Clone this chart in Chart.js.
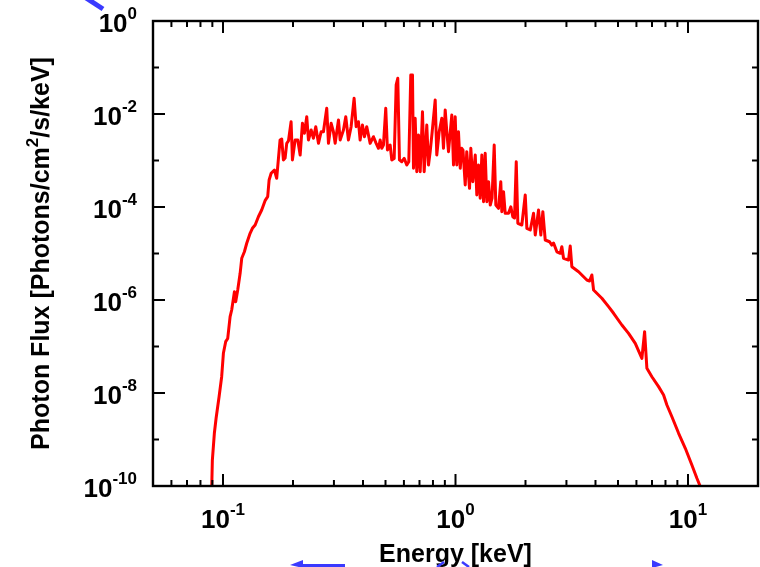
<!DOCTYPE html>
<html>
<head>
<meta charset="utf-8">
<script src="https://cdn.jsdelivr.net/npm/chart.js@4/dist/chart.umd.min.js"></script>
<style>
  html, body { margin: 0; padding: 0; background: #ffffff; }
  #wrap { width: 760px; height: 567px; position: relative; overflow: hidden; }
  canvas { display: block; }
</style>
</head>
<body>
<div id="wrap"><canvas id="c" width="760" height="567"></canvas></div>
<script>
// ---- data ----
const energyKeV = [
0.0890, 0.0900, 0.0918, 0.0934, 0.0962, 0.0987, 0.1004, 0.1027, 0.1048,
0.1073, 0.1090, 0.1120, 0.1134, 0.1157, 0.1185, 0.1204, 0.1236, 0.1265, 0.1308,
0.1338, 0.1375, 0.1420, 0.1467, 0.1517, 0.1557, 0.1579, 0.1611, 0.1664, 0.1702,
0.1760, 0.1789, 0.1819, 0.1850, 0.1880, 0.1912, 0.1963, 0.1989, 0.2043, 0.2097,
0.2147, 0.2196, 0.2240, 0.2292, 0.2331, 0.2394, 0.2449, 0.2506, 0.2574, 0.2643,
0.2704, 0.2794, 0.2842, 0.2919, 0.2985, 0.3037, 0.3138, 0.3191, 0.3297, 0.3373,
0.3463, 0.3557, 0.3664, 0.3738, 0.3824, 0.3889, 0.3979, 0.4059, 0.4153, 0.4295,
0.4438, 0.4558, 0.4663, 0.4742, 0.4818, 0.4899, 0.5012, 0.5097, 0.5236, 0.5320,
0.5448, 0.5557, 0.5646, 0.5741, 0.5874, 0.6016, 0.6172, 0.6296, 0.6422, 0.6531,
0.6596, 0.6708, 0.6816, 0.6932, 0.7049, 0.7211, 0.7333, 0.7525, 0.7653, 0.7783,
0.7939, 0.8179, 0.8308, 0.8509, 0.8731, 0.8879, 0.9030, 0.9174, 0.9330, 0.9640,
0.9804, 0.9970, 1.013, 1.030, 1.048, 1.064, 1.077, 1.101, 1.118, 1.149,
1.164, 1.187, 1.216, 1.235, 1.256, 1.277, 1.298, 1.320, 1.342, 1.364,
1.387, 1.411, 1.436, 1.467, 1.491, 1.531, 1.566, 1.582, 1.609, 1.636,
1.691, 1.730, 1.764, 1.794, 1.825, 1.854, 1.929, 1.995, 2.027, 2.097,
2.166, 2.203, 2.276, 2.328, 2.375, 2.432, 2.538, 2.596, 2.641, 2.729,
2.822, 2.867, 2.915, 3.063, 3.115, 3.165, 3.383, 3.673, 3.772, 3.859,
3.925, 4.261, 4.553, 4.786, 5.194, 5.551, 5.932, 6.334, 6.506, 6.655,
6.993, 7.472, 7.852, 8.114, 8.526, 9.112, 9.736, 10.39, 10.92, 11.30,
11.67
];
const photonFlux = [
3.05e-11, 3.62e-10, 1.36e-9, 2.86e-9, 8.32e-9, 2.24e-8, 7.14e-8, 1.27e-7, 1.49e-7,
4.38e-7, 6.10e-7, 1.51e-6, 9.19e-7, 1.64e-6, 3.75e-6, 7.88e-6, 1.09e-5, 1.66e-5, 2.72e-5,
3.48e-5, 4.10e-5, 6.18e-5, 8.61e-5, 1.37e-4, 1.67e-4, 3.81e-4, 5.31e-4, 6.25e-4, 4.14e-4,
2.76e-3, 2.90e-3, 1.03e-3, 1.13e-3, 2.34e-3, 2.63e-3, 6.83e-3, 1.03e-3, 2.76e-3, 2.76e-3,
1.31e-3, 6.31e-3, 3.85e-3, 8.75e-3, 2.76e-3, 4.53e-3, 3.00e-3, 5.33e-3, 2.34e-3, 4.16e-3,
4.16e-3, 1.33e-2, 2.34e-3, 6.31e-3, 4.16e-3, 2.34e-3, 7.43e-3, 2.76e-3, 4.53e-3, 8.75e-3,
2.76e-3, 5.33e-3, 2.18e-2, 5.33e-3, 6.83e-3, 2.76e-3, 5.80e-3, 3.25e-3, 5.33e-3, 2.34e-3,
3.25e-3, 2.34e-3, 1.83e-3, 2.76e-3, 1.83e-3, 2.15e-3, 1.33e-2, 1.68e-3, 2.15e-3, 1.03e-3,
1.11e-3, 4.21e-2, 5.86e-2, 1.03e-3, 9.42e-4, 1.11e-3, 8.00e-4, 9.42e-4, 6.90e-2, 6.90e-2,
6.80e-4, 8.09e-3, 5.74e-4, 3.53e-3, 5.74e-4, 1.12e-2, 5.74e-4, 5.80e-3, 8.00e-4, 1.55e-3,
4.16e-3, 2.00e-2, 1.31e-3, 4.16e-3, 8.09e-3, 1.83e-3, 1.22e-2, 4.16e-3, 1.55e-3, 9.51e-3,
8.00e-4, 8.75e-3, 8.00e-4, 4.16e-3, 6.80e-4, 1.83e-3, 1.68e-3, 2.97e-4, 1.55e-3, 2.52e-4,
1.83e-3, 3.50e-4, 1.31e-3, 1.81e-4, 8.00e-4, 1.54e-4, 1.31e-3, 1.30e-4, 1.43e-3, 1.30e-4,
3.50e-4, 1.10e-4, 1.56e-4, 2.15e-3, 1.10e-4, 9.38e-5, 3.50e-4, 7.93e-5, 2.13e-4, 7.32e-5,
7.32e-5, 1.01e-4, 6.18e-5, 5.80e-5, 9.42e-4, 4.46e-5, 4.10e-5, 1.81e-4, 3.48e-5, 3.20e-5,
7.32e-5, 2.50e-5, 8.61e-5, 2.50e-5, 7.93e-5, 1.95e-5, 1.79e-5, 1.52e-5, 1.68e-5, 1.09e-5,
1.01e-5, 1.40e-5, 7.88e-6, 7.24e-6, 1.45e-5, 5.20e-6, 4.06e-6, 2.69e-6, 2.56e-6, 3.45e-6,
1.64e-6, 1.09e-6, 7.18e-7, 5.18e-7, 2.90e-7, 1.92e-7, 1.17e-7, 5.57e-8, 2.08e-7, 3.40e-8,
2.24e-8, 1.37e-8, 9.06e-9, 5.52e-9, 3.09e-9, 1.36e-9, 6.47e-10, 2.83e-10, 1.47e-10, 9.66e-11,
6.10e-11
];

// ---- axes ----
const xRange = [0.05, 20];
const yRange = [1e-10, 1];
const xMajorTicks = [0.1, 1, 10];
const xMinorTicks = [0.05, 0.06, 0.07, 0.08, 0.09, 0.2, 0.3, 0.4, 0.5, 0.6, 0.7, 0.8, 0.9, 2, 3, 4, 5, 6, 7, 8, 9];
const xTickExponents = ['-1', '0', '1'];
const yMajorTicks = [1, 1e-2, 1e-4, 1e-6, 1e-8, 1e-10];
const yMinorTicks = [1e-1, 1e-3, 1e-5, 1e-7, 1e-9];
const yTickExponents = ['0', '-2', '-4', '-6', '-8', '-10'];
const xTitle = 'Energy [keV]';
const yTitleParts = ['Photon Flux [Photons/cm', '2', '/s/keV]'];

const FONT = "'Liberation Sans', Arial, Helvetica, sans-serif";

function drawPower(ctx, exp, px, baseY, align) {
  ctx.font = 'bold 26px ' + FONT;
  const wb = ctx.measureText('10').width;
  ctx.font = 'bold 17px ' + FONT;
  const we = ctx.measureText(exp).width;
  const total = wb + we;
  const x0 = align === 'center' ? px - total / 2 : px - total;
  ctx.textAlign = 'left';
  ctx.textBaseline = 'alphabetic';
  ctx.font = 'bold 26px ' + FONT;
  ctx.fillText('10', x0, baseY);
  ctx.font = 'bold 17px ' + FONT;
  ctx.fillText(exp, x0 + wb, baseY - 13);
}

const framePlugin = {
  id: 'framePlugin',
  afterDraw(chart) {
    const { ctx, chartArea: a, scales } = chart;
    const xs = scales.x, ys = scales.y;
    ctx.save();
    ctx.strokeStyle = '#000';
    ctx.fillStyle = '#000';
    ctx.lineWidth = 2;
    ctx.lineCap = 'butt';
    const seg = (x1, y1, x2, y2) => { ctx.beginPath(); ctx.moveTo(x1, y1); ctx.lineTo(x2, y2); ctx.stroke(); };
    xMinorTicks.forEach(v => {
      const p = xs.getPixelForValue(v);
      if (p <= a.left + 1 || p >= a.right - 1) return;
      seg(p, a.bottom, p, a.bottom - 6);
      seg(p, a.top, p, a.top + 6);
    });
    xMajorTicks.forEach(v => {
      const p = xs.getPixelForValue(v);
      seg(p, a.bottom, p, a.bottom - 12);
      seg(p, a.top, p, a.top + 12);
    });
    yMinorTicks.forEach(v => {
      const p = ys.getPixelForValue(v);
      seg(a.left, p, a.left + 6, p);
      seg(a.right, p, a.right - 6, p);
    });
    yMajorTicks.forEach(v => {
      const p = ys.getPixelForValue(v);
      if (p <= a.top + 1 || p >= a.bottom - 1) return;
      seg(a.left, p, a.left + 12, p);
      seg(a.right, p, a.right - 12, p);
    });
    ctx.lineWidth = 2.4;
    ctx.strokeRect(a.left, a.top, a.right - a.left, a.bottom - a.top);

    xMajorTicks.forEach((v, i) => {
      drawPower(ctx, xTickExponents[i], xs.getPixelForValue(v), a.bottom + 42, 'center');
    });
    yMajorTicks.forEach((v, i) => {
      drawPower(ctx, yTickExponents[i], a.left - 16, ys.getPixelForValue(v) + 11, 'right');
    });

    // axis titles
    ctx.textBaseline = 'alphabetic';
    ctx.font = 'bold 25px ' + FONT;
    ctx.textAlign = 'center';
    ctx.fillText(xTitle, (a.left + a.right) / 2, 562);

    ctx.save();
    ctx.translate(49, (a.top + a.bottom) / 2);
    ctx.rotate(-Math.PI / 2);
    ctx.textAlign = 'left';
    ctx.font = 'bold 25px ' + FONT;
    const w1 = ctx.measureText(yTitleParts[0]).width;
    const w3 = ctx.measureText(yTitleParts[2]).width;
    ctx.font = 'bold 17px ' + FONT;
    const w2 = ctx.measureText(yTitleParts[1]).width;
    let sx = -(w1 + w2 + w3) / 2;
    ctx.font = 'bold 25px ' + FONT;
    ctx.fillText(yTitleParts[0], sx, 0);
    ctx.font = 'bold 17px ' + FONT;
    ctx.fillText(yTitleParts[1], sx + w1, -11);
    ctx.font = 'bold 25px ' + FONT;
    ctx.fillText(yTitleParts[2], sx + w1 + w2, 0);
    ctx.restore();

    // cropped blue fragments of the surrounding figure
    ctx.strokeStyle = '#3a3aff';
    ctx.fillStyle = '#3a3aff';
    ctx.lineWidth = 5;
    seg(86, -2, 103, 9);
    ctx.lineWidth = 3;
    seg(300, 565.5, 345, 565.5);
    ctx.beginPath(); ctx.moveTo(290, 565); ctx.lineTo(303, 560); ctx.lineTo(303, 568); ctx.closePath(); ctx.fill();
    ctx.lineWidth = 2.5;
    seg(437, 567, 444, 562); seg(462, 562, 469, 567);
    ctx.beginPath(); ctx.moveTo(663, 565); ctx.lineTo(652, 560); ctx.lineTo(652, 568); ctx.closePath(); ctx.fill();
    ctx.restore();
  }
};

const points = energyKeV.map((e, i) => ({ x: e, y: photonFlux[i] }));

new Chart(document.getElementById('c'), {
  type: 'line',
  data: {
    datasets: [{
      label: 'Photon Flux',
      data: points,
      borderColor: '#ff0000',
      backgroundColor: '#ff0000',
      borderWidth: 3,
      pointRadius: 0,
      tension: 0,
      fill: false,
      borderJoinStyle: 'round'
    }]
  },
  options: {
    responsive: false,
    animation: false,
    devicePixelRatio: 1,
    layout: { padding: { left: 153, right: 2, top: 21, bottom: 81 } },
    plugins: { legend: { display: false }, tooltip: { enabled: false }, title: { display: false } },
    scales: {
      x: { type: 'logarithmic', min: xRange[0], max: xRange[1], display: false },
      y: { type: 'logarithmic', min: yRange[0], max: yRange[1], display: false }
    }
  },
  plugins: [framePlugin]
});
</script>
</body>
</html>
